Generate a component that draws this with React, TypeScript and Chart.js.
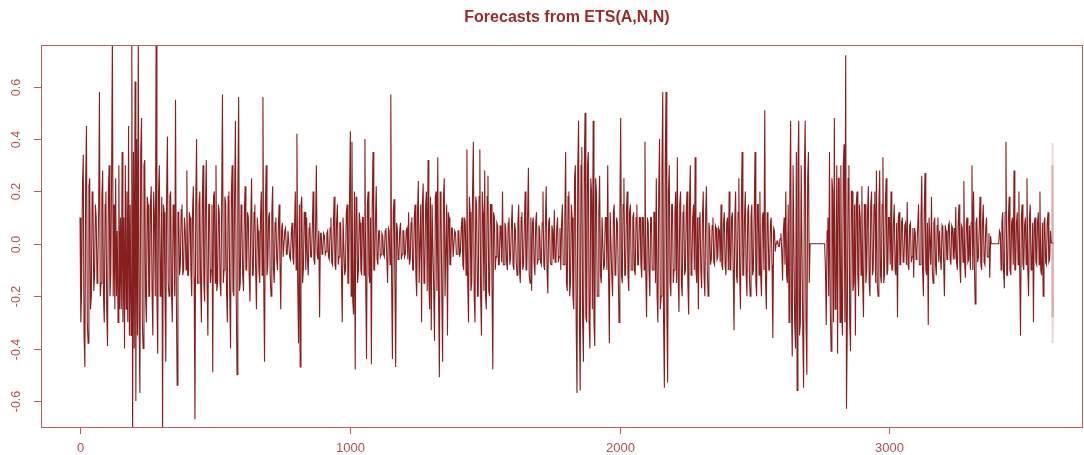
import React, { useEffect, useRef } from "react";
import { Chart, registerables } from "chart.js";

Chart.register(...registerables);

// ---- data ----
const STEP = 3; // time units between stored observations
const series: number[] = [
  0.1, -0.3, -0.18, 0.22, 0.34, -0.35, -0.47, 0.25, 0.45, -0.3, -0.38, 0.22, 0.25, -0.25, -0.2, 0.2, 0.17, -0.18, -0.12, 0.15, 0.1, -0.15, -0.08, 0.12, 0.58, -0.2, -0.15, 0.18, 0.28, -0.2, -0.3, 0.15, 0.2, -0.25, -0.39, 0.2, 0.3, -0.2, -0.12, 0.25,
  0.8, -0.2, 0.15, -0.25, 0.25, -0.2, 0.05, -0.3, 0.3, -0.25, 0.1, -0.25, 0.35, -0.3, 0.1, -0.4, 0.3, -0.25, 0.2, -0.3, 0.45, -0.35, 0.15, -0.35, 0.8, -0.75, 0.35, -0.4, 0.62, -0.6, 0.4, -0.35, 0.8, -0.3, -0.57, 0.35, 0.48, -0.3, -0.4, 0.3,
  0.32, -0.2, -0.3, 0.18, 0.15, -0.2, -0.2, 0.15, 0.22, -0.18, -0.35, 0.2, 0.1, -0.2, 0.78, -0.2, -0.42, 0.2, 0.3, -0.2, -0.1, 0.18, -0.72, 0.15, 0.12, -0.2, -0.45, 0.2, 0.41, -0.15, -0.2, 0.18, 0.2, -0.18, -0.3, 0.15, 0.1, -0.2, 0.55, -0.2,
  -0.54, 0.12, 0.12, -0.12, -0.08, 0.13, 0.15, -0.12, -0.1, 0.1, 0.05, -0.1, 0.28, -0.12, -0.12, 0.12, 0.1, -0.1, -0.2, 0.12, 0.22, -0.13, -0.67, 0.15, 0.4, -0.15, -0.15, 0.15, 0.2, -0.15, -0.3, 0.15, 0.3, -0.15, -0.22, 0.15, 0.32, -0.15, -0.35, 0.15,
  0.15, -0.15, -0.1, 0.15, -0.49, 0.18, 0.2, -0.15, 0.3, -0.18, -0.15, 0.15, 0.12, -0.15, -0.2, 0.15, 0.57, -0.15, -0.1, 0.18, 0.15, -0.18, -0.3, 0.18, 0.2, -0.2, -0.4, 0.2, 0.3, -0.18, -0.2, 0.18, 0.47, -0.2, -0.5, 0.2, 0.56, -0.18, -0.15, 0.15,
  0.08, -0.12, -0.18, 0.12, 0.22, -0.1, -0.1, 0.12, 0.1, -0.12, -0.22, 0.1, 0.25, -0.12, -0.12, 0.12, 0.15, -0.1, -0.25, 0.1, 0.05, -0.1, -0.15, 0.1, 0.2, -0.12, 0.56, -0.15, -0.45, 0.15, 0.3, -0.12, -0.08, 0.1, 0.12, -0.12, -0.2, 0.12, 0.22, -0.1,
  -0.15, 0.08, 0.1, -0.06, -0.1, 0.06, 0.15, -0.06, -0.25, 0.05, 0.08, -0.05, -0.05, 0.05, 0.06, -0.04, -0.04, 0.05, 0.05, -0.05, -0.06, 0.04, 0.08, -0.05, -0.08, 0.06, 0.2, -0.1, 0.42, -0.15, -0.38, 0.15, -0.47, 0.15, 0.18, -0.15, -0.1, 0.12, 0.12, -0.1,
  0.1, -0.06, -0.12, 0.06, 0.08, -0.05, -0.05, 0.06, 0.2, -0.06, -0.08, 0.05, 0.3, -0.04, -0.06, 0.05, -0.28, 0.04, 0.04, -0.04, -0.02, 0.04, 0.03, -0.04, -0.03, 0.04, 0.05, -0.05, -0.06, 0.06, 0.1, -0.07, -0.08, 0.07, 0.18, -0.08, -0.1, 0.08, 0.15, -0.08,
  -0.05, 0.08, 0.08, -0.1, -0.3, 0.1, 0.1, -0.12, -0.1, 0.12, 0.15, -0.15, -0.15, 0.18, 0.43, -0.2, 0.39, -0.22, -0.27, 0.2, -0.48, 0.18, 0.15, -0.15, -0.1, 0.12, 0.08, -0.1, -0.12, 0.1, 0.1, -0.12, 0.4, -0.15, -0.44, 0.15, 0.2, -0.12, -0.15, 0.1,
  -0.46, 0.15, 0.35, -0.1, -0.1, 0.08, 0.22, -0.06, -0.08, 0.05, 0.05, -0.05, -0.04, 0.04, 0.03, -0.04, -0.05, 0.05, 0.06, -0.05, -0.15, 0.06, 0.05, -0.08, 0.57, -0.15, -0.44, 0.12, 0.17, -0.12, -0.47, 0.08, 0.06, -0.06, -0.05, 0.05, 0.08, -0.06, -0.04, 0.05,
  0.05, -0.05, -0.04, 0.05, 0.06, -0.06, 0.12, -0.08, -0.06, 0.08, 0.1, -0.1, -0.1, 0.1, 0.15, -0.12, -0.2, 0.12, 0.24, -0.15, -0.15, 0.15, -0.3, 0.15, 0.23, -0.15, -0.1, 0.15, 0.2, -0.18, 0.32, -0.15, -0.25, 0.18, -0.33, 0.15, 0.15, -0.18, -0.37, 0.18,
  0.2, -0.18, 0.33, -0.2, -0.51, 0.2, 0.15, -0.2, -0.45, 0.18, 0.25, -0.2, -0.2, 0.15, -0.35, 0.12, 0.1, -0.08, -0.08, 0.06, 0.06, -0.05, -0.05, 0.05, 0.04, -0.04, -0.04, 0.05, 0.05, -0.05, -0.03, 0.06, 0.1, -0.08, -0.1, 0.1, 0.08, -0.12, 0.36, -0.15,
  -0.3, 0.18, 0.12, -0.18, -0.15, 0.2, 0.39, -0.2, -0.3, 0.18, 0.15, -0.2, -0.2, 0.18, 0.36, -0.2, -0.35, 0.2, 0.12, -0.18, 0.28, -0.2, -0.25, 0.18, 0.26, -0.18, -0.2, 0.15, 0.15, -0.15, -0.48, 0.12, 0.1, -0.1, -0.05, 0.08, 0.07, -0.08, -0.08, 0.07,
  0.05, -0.07, 0.2, -0.08, -0.08, 0.08, 0.06, -0.07, -0.1, 0.08, 0.1, -0.08, -0.05, 0.07, 0.15, -0.08, -0.1, 0.08, 0.05, -0.07, -0.12, 0.08, 0.15, -0.1, -0.15, 0.1, 0.12, -0.1, -0.08, 0.08, 0.2, -0.1, -0.1, 0.1, 0.29, -0.12, -0.15, 0.1, -0.18, 0.08,
  0.1, -0.07, -0.12, 0.08, 0.12, -0.08, -0.06, 0.07, 0.05, -0.07, -0.08, 0.08, 0.2, -0.08, -0.1, 0.08, 0.22, -0.1, -0.19, 0.08, 0.1, -0.07, -0.08, 0.07, 0.05, -0.06, 0.13, -0.07, -0.06, 0.06, 0.1, -0.07, -0.05, 0.06, -0.1, 0.08, 0.15, -0.08, -0.08, 0.1,
  0.35, -0.15, -0.18, 0.18, 0.2, -0.2, -0.15, 0.15, 0.1, -0.2, -0.25, 0.25, 0.3, -0.3, -0.57, 0.3, 0.47, -0.3, -0.56, 0.3, 0.37, -0.3, -0.45, 0.28, 0.5, -0.28, -0.3, 0.3, 0.35, -0.3, -0.4, 0.25, 0.2, -0.25, 0.47, -0.3, -0.39, 0.25, 0.2, -0.2,
  -0.2, 0.12, 0.26, -0.12, -0.15, 0.1, 0.1, -0.1, -0.08, 0.1, 0.1, -0.1, 0.3, -0.12, -0.38, 0.12, 0.12, -0.12, -0.2, 0.12, 0.15, -0.12, -0.1, 0.1, 0.08, -0.12, -0.3, 0.12, 0.48, -0.12, -0.15, 0.15, 0.25, -0.12, -0.12, 0.12, 0.2, -0.12, -0.18, 0.12,
  0.15, -0.1, -0.1, 0.1, 0.12, -0.1, -0.12, 0.1, 0.15, -0.08, -0.08, 0.1, 0.1, -0.08, -0.13, 0.1, 0.1, -0.1, 0.39, -0.12, -0.28, 0.1, 0.08, -0.1, -0.2, 0.1, 0.1, -0.1, -0.1, 0.12, 0.12, -0.15, 0.25, -0.2, -0.3, 0.2, 0.4, -0.25, -0.2, 0.3,
  0.58, -0.3, -0.55, 0.3, 0.58, -0.25, -0.53, 0.2, 0.3, -0.15, -0.2, 0.15, 0.15, -0.15, -0.1, 0.12, 0.2, -0.15, 0.33, -0.12, -0.26, 0.15, 0.2, -0.15, -0.2, 0.12, 0.15, -0.12, -0.1, 0.12, 0.2, -0.15, -0.27, 0.15, 0.3, -0.12, -0.08, 0.1, 0.15, -0.1,
  0.33, -0.1, -0.15, 0.1, -0.25, 0.1, 0.12, -0.1, -0.17, 0.1, 0.2, -0.12, -0.2, 0.12, 0.22, -0.1, -0.2, 0.08, 0.05, -0.08, -0.06, 0.07, 0.1, -0.07, -0.08, 0.07, 0.06, -0.06, -0.05, 0.06, 0.05, -0.07, 0.15, -0.08, -0.1, 0.08, 0.12, -0.08, -0.12, 0.08,
  0.1, -0.1, 0.2, -0.1, -0.1, 0.1, 0.12, -0.1, -0.33, 0.1, 0.2, -0.12, -0.15, 0.12, 0.25, -0.12, -0.25, 0.12, 0.35, -0.12, -0.12, 0.1, 0.2, -0.12, -0.2, 0.12, 0.15, -0.12, -0.2, 0.1, 0.15, -0.12, -0.1, 0.12, 0.35, -0.15, -0.2, 0.15, 0.15, -0.12,
  0.2, -0.12, -0.2, 0.1, 0.12, -0.1, 0.51, -0.15, -0.25, 0.12, 0.1, -0.1, -0.1, 0.08, 0.1, -0.08, -0.36, 0.06, 0.05, -0.03, 0.0, 0.01, 0.01, -0.01, -0.01, 0.02, 0.04, -0.03, -0.14, 0.05, 0.1, -0.08, 0.2, -0.12, -0.15, 0.15, -0.3, 0.2, 0.47, -0.25,
  -0.43, 0.3, 0.3, -0.3, -0.4, 0.35, -0.56, 0.3, 0.47, -0.35, -0.3, 0.3, 0.3, -0.35, -0.55, 0.3, 0.47, -0.3, -0.5, 0.25, 0.35, -0.15, 0.0, 0.0, 0.0, 0.0, 0.0, 0.0, 0.0, 0.0, 0.0, 0.0, 0.0, 0.0, 0.0, 0.0, 0.0, 0.0, 0.0, 0.0,
  0.0, -0.1, -0.31, 0.05, 0.1, -0.2, 0.35, -0.25, -0.41, 0.25, 0.2, -0.3, 0.48, -0.25, -0.2, 0.3, -0.42, 0.25, 0.25, -0.3, 0.3, -0.25, -0.35, 0.3, 0.38, -0.3, 0.72, -0.63, -0.3, 0.25, 0.3, -0.3, -0.41, 0.2, 0.2, -0.18, -0.15, 0.15, -0.35, 0.15,
  0.2, -0.12, -0.2, 0.15, 0.1, -0.12, 0.22, -0.15, -0.28, 0.15, 0.15, -0.15, -0.1, 0.12, 0.22, -0.15, -0.2, 0.15, 0.2, -0.12, -0.1, 0.15, 0.2, -0.15, 0.28, -0.15, -0.2, 0.15, 0.28, -0.12, -0.15, 0.15, 0.33, -0.15, -0.12, 0.15, 0.25, -0.12, -0.1, 0.1,
  0.1, -0.08, 0.2, -0.1, -0.1, 0.08, 0.15, -0.1, -0.12, 0.08, -0.28, 0.1, 0.12, -0.08, -0.08, 0.08, 0.1, -0.07, -0.06, 0.07, 0.08, -0.08, 0.16, -0.08, -0.1, 0.07, 0.08, -0.07, -0.05, 0.06, -0.13, 0.06, 0.04, -0.06, -0.03, 0.07, 0.15, -0.08, -0.08, 0.1,
  0.26, -0.1, -0.2, 0.12, 0.27, -0.1, -0.12, 0.08, -0.31, 0.1, 0.1, -0.08, 0.18, -0.1, -0.15, 0.08, 0.1, -0.08, -0.12, 0.07, 0.1, -0.07, 0.05, -0.06, -0.1, 0.07, 0.06, -0.07, -0.2, 0.07, 0.05, -0.06, -0.06, 0.07, 0.08, -0.06, -0.08, 0.07, 0.06, -0.06,
  0.06, -0.06, 0.14, -0.07, -0.1, 0.08, 0.15, -0.08, -0.15, 0.07, 0.06, -0.07, 0.24, -0.08, -0.13, 0.08, 0.1, -0.07, -0.06, 0.07, -0.1, 0.08, 0.3, -0.1, 0.2, -0.08, -0.23, 0.08, 0.1, -0.07, -0.05, 0.07, 0.18, -0.08, -0.1, 0.08, 0.15, -0.07, -0.08, 0.06,
  0.1, -0.05, -0.05, 0.04, -0.13, 0.03, 0.0, 0.0, 0.0, 0.0, 0.0, 0.0, 0.0, 0.0, 0.0, 0.0, 0.05, 0.04, -0.1, 0.08, 0.12, -0.1, -0.17, 0.12, 0.39, -0.12, -0.12, 0.1, 0.18, -0.1, -0.12, 0.08, 0.1, -0.08, 0.28, -0.1, -0.1, 0.08, 0.12, -0.08,
  0.2, -0.1, -0.35, 0.1, 0.15, -0.08, -0.1, 0.07, 0.1, -0.08, 0.25, -0.1, -0.2, 0.1, 0.15, -0.1, -0.08, 0.08, -0.3, 0.08, 0.1, -0.07, -0.08, 0.08, 0.12, -0.08, 0.2, -0.1, -0.12, 0.08, -0.2, 0.08, 0.1, -0.07, -0.08, 0.08, 0.12, -0.07, -0.06, 0.05,
  0.003,
];

// forecast horizon (ETS(A,N,N) point forecast and intervals)
const fcX = [3600, 3602, 3604, 3606, 3608, 3610];
const fcMean = [0.003, 0.003, 0.003, 0.003, 0.003, 0.003];
const fcLo80 = [-0.28, -0.28, -0.28, -0.28, -0.28, -0.28];
const fcHi80 = [0.3, 0.3, 0.3, 0.3, 0.3, 0.3];
const fcLo95 = [-0.38, -0.38, -0.38, -0.38, -0.38, -0.38];
const fcHi95 = [0.385, 0.385, 0.385, 0.385, 0.385, 0.385];

const xTicks = [0, 1000, 2000, 3000];
const xTickLabels = ["0", "1000", "2000", "3000"];
const yTicks = [-0.6, -0.4, -0.2, 0, 0.2, 0.4, 0.6];
const yTickLabels = ["-0.6", "-0.4", "-0.2", "0.0", "0.2", "0.4", "0.6"];
const TITLE = "Forecasts from ETS(A,N,N)";

// ---- styles ----
const LINE = "#871f1f";
const AXIS = "#bf5c59";
const LABEL = "#b44f4c";
const TITLE_COLOR = "#9a2a2a";
const FONT = '"Liberation Sans", Arial, sans-serif';

const rStyle = {
  id: "rStyle",
  afterDraw(chart: any) {
    const { ctx, chartArea: a, scales } = chart;
    const xs = scales.x;
    const ys = scales.y;
    ctx.save();
    ctx.strokeStyle = AXIS;
    ctx.lineWidth = 1;
    ctx.strokeRect(a.left + 0.5, a.top + 0.5, a.right - a.left - 1, a.bottom - a.top);
    ctx.fillStyle = LABEL;
    ctx.font = `13px ${FONT}`;
    ctx.textAlign = "center";
    ctx.textBaseline = "middle";
    xTicks.forEach((v, i) => {
      const px = Math.round(xs.getPixelForValue(v)) + 0.5;
      ctx.beginPath();
      ctx.moveTo(px, a.bottom);
      ctx.lineTo(px, a.bottom + 7);
      ctx.stroke();
      ctx.fillText(xTickLabels[i], px, a.bottom + 21);
    });
    ctx.font = `12.5px ${FONT}`;
    yTicks.forEach((v, i) => {
      const py = Math.round(ys.getPixelForValue(v)) + 0.5;
      ctx.beginPath();
      ctx.moveTo(a.left, py);
      ctx.lineTo(a.left - 7, py);
      ctx.stroke();
      ctx.save();
      ctx.translate(a.left - 24, py);
      ctx.rotate(-Math.PI / 2);
      ctx.fillText(yTickLabels[i], 0, 0);
      ctx.restore();
    });
    ctx.fillStyle = TITLE_COLOR;
    ctx.font = `bold 16px ${FONT}`;
    ctx.fillText(TITLE, 567, 18);
    ctx.restore();
  },
};

export default function App() {
  const ref = useRef<HTMLCanvasElement | null>(null);
  useEffect(() => {
    if (!ref.current) return;
    const pts = series.map((y, i) => ({ x: i * STEP, y }));
    const band = (arr: number[]) => arr.map((y, i) => ({ x: fcX[i], y }));
    const hidden = { borderWidth: 0, borderColor: "rgba(0,0,0,0)", pointRadius: 0 };
    const chart = new Chart(ref.current, {
      type: "line",
      data: {
        datasets: [
          { label: "series", data: pts, borderColor: LINE, borderWidth: 1.1, pointRadius: 0, fill: false, tension: 0, order: 1 },
          { label: "mean", data: band(fcMean), borderColor: LINE, borderWidth: 1, pointRadius: 0, fill: false, order: 0 },
          { label: "hi80", data: band(fcHi80), ...hidden, backgroundColor: "#deaeae", fill: "+1", order: 2 },
          { label: "lo80", data: band(fcLo80), ...hidden, fill: false, order: 2 },
          { label: "hi95", data: band(fcHi95), ...hidden, backgroundColor: "#f0d9d9", fill: "+1", order: 3 },
          { label: "lo95", data: band(fcLo95), ...hidden, fill: false, order: 3 },
        ],
      },
      options: {
        responsive: false,
        animation: false,
        layout: { padding: { left: 41, top: 45, right: 1, bottom: 28 } },
        plugins: {
          legend: { display: false },
          tooltip: { enabled: false },
          title: { display: false },
        },
        scales: {
          x: { type: "linear", min: -144.6, max: 3717.6, display: false },
          y: { type: "linear", min: -0.6995, max: 0.759, display: false },
        },
      },
      plugins: [rStyle],
    });
    return () => chart.destroy();
  }, []);
  return (
    <div style={{ position: "absolute", left: 0, top: 0, width: 1084, height: 455, background: "#fff" }}>
      <canvas ref={ref} width={1084} height={455} style={{ display: "block" }} />
    </div>
  );
}
